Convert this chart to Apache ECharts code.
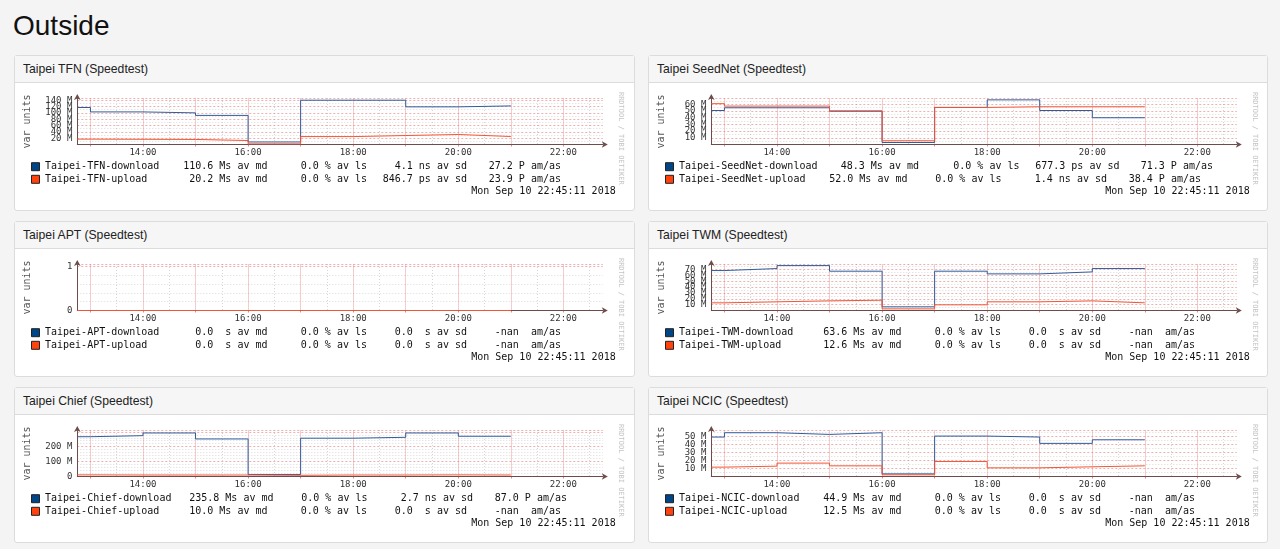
<!DOCTYPE html>
<html>
<head>
<meta charset="utf-8">
<title>Outside</title>
<script src="https://cdn.jsdelivr.net/npm/echarts@6.0.0/dist/echarts.min.js"></script>
<style>
    html, body { margin: 0; padding: 0; width: 1280px; height: 549px; overflow: hidden; background: #f4f4f4; font-family: "Liberation Sans", Arial, sans-serif; }
    h1 { position: absolute; left: 13px; top: 10px; margin: 0; font-size: 28px; font-weight: normal; color: #111; }
    .card { position: absolute; height: 156px; background: #fff; border: 1px solid #dcdcdc; border-radius: 3px; box-sizing: border-box; }
    .card-header { height: 26px; line-height: 27px; background: #f6f6f6; border-bottom: 1px solid #dcdcdc; padding-left: 8px; font-size: 12.2px; color: #222; }
    .chartWrapper { height: 127px; }
</style>
</head>
<body>
<h1>Outside</h1>
<div id="cards"></div>

<script>
    // interval boundaries (hours), one value per interval
    var hours = [12.75, 13, 14, 15, 16, 17, 18, 19, 20, 21];
    var hourTicks = [13, 14, 15, 16, 17, 18, 19, 20, 21, 22];
    var halfHourTicks = [13.5, 14.5, 15.5, 16.5, 17.5, 18.5, 19.5, 20.5, 21.5, 22.5];
    var labelHours = [14, 16, 18, 20, 22];
    var updated = 'Mon Sep 10 22:45:11 2018';

    var titles = ['Taipei TFN (Speedtest)', 'Taipei SeedNet (Speedtest)', 'Taipei APT (Speedtest)',
                  'Taipei TWM (Speedtest)', 'Taipei Chief (Speedtest)', 'Taipei NCIC (Speedtest)'];
    var targets = ['TFN', 'SeedNet', 'APT', 'TWM', 'Chief', 'NCIC'];

    var tfnDownload = [117, 103, 100, 92, 8, 140, 140, 119, 122];
    var tfnUpload = [17, 16.5, 16, 12.5, 2, 25, 28.4, 31.6, 25.3];
    var seednetDownload = [50.8, 54.9, 54.9, 49.7, 3, 55.4, 66.7, 50.8, 40];
    var seednetUpload = [61, 57.4, 57.4, 50.3, 5.6, 55.4, 56.4, 56.4, 56.4];
    var aptDownload = [0, 0, 0, 0, 0, 0, 0, 0, 0];
    var aptUpload = [0, 0, 0, 0, 0, 0, 0, 0, 0];
    var twmDownload = [68.3, 71.7, 76.8, 67.2, 6.3, 67.2, 62.6, 66, 71.7];
    var twmUpload = [13.1, 14.8, 16.5, 17.6, 2.8, 9.7, 14.8, 16.5, 13.1];
    var chiefDownload = [267, 274, 292, 252, 13.5, 257, 263, 292, 270];
    var chiefUpload = [11, 10, 10, 10, 8, 10, 10, 11, 10];
    var ncicDownload = [49.2, 54.6, 52.5, 54.6, 3.3, 50.4, 49.2, 41.3, 45.8];
    var ncicUpload = [11.7, 12.9, 16.7, 13.3, 2.1, 18.75, 10.8, 12.1, 13.3];

    var tfnStats = [['110.6 Ms av md', '0.0 % av ls', '4.1 ns av sd', '27.2 P am/as'],
                    ['20.2 Ms av md', '0.0 % av ls', '846.7 ps av sd', '23.9 P am/as']];
    var seednetStats = [['48.3 Ms av md', '0.0 % av ls', '677.3 ps av sd', '71.3 P am/as'],
                        ['52.0 Ms av md', '0.0 % av ls', '1.4 ns av sd', '38.4 P am/as']];
    var aptStats = [['0.0  s av md', '0.0 % av ls', '0.0  s av sd', '-nan  am/as'],
                    ['0.0  s av md', '0.0 % av ls', '0.0  s av sd', '-nan  am/as']];
    var twmStats = [['63.6 Ms av md', '0.0 % av ls', '0.0  s av sd', '-nan  am/as'],
                    ['12.6 Ms av md', '0.0 % av ls', '0.0  s av sd', '-nan  am/as']];
    var chiefStats = [['235.8 Ms av md', '0.0 % av ls', '2.7 ns av sd', '87.0 P am/as'],
                      ['10.0 Ms av md', '0.0 % av ls', '0.0  s av sd', '-nan  am/as']];
    var ncicStats = [['44.9 Ms av md', '0.0 % av ls', '0.0  s av sd', '-nan  am/as'],
                     ['12.5 Ms av md', '0.0 % av ls', '0.0  s av sd', '-nan  am/as']];

    // y scale per chart: top of plot, label step, minor splits, highest labelled value, unit
    var yMax = [147, 69.5, 1.06, 79.5, 312, 58];
    var yStep = [20, 10, 1, 10, 100, 10];
    var yMinor = [2, 2, 5, 2, 5, 2];
    var yTop = [140, 60, 1, 70, 200, 50];
    var yUnit = [' M', ' M', '', ' M', ' M', ' M'];

    var downloads = [tfnDownload, seednetDownload, aptDownload, twmDownload, chiefDownload, ncicDownload];
    var uploads = [tfnUpload, seednetUpload, aptUpload, twmUpload, chiefUpload, ncicUpload];
    var stats = [tfnStats, seednetStats, aptStats, twmStats, chiefStats, ncicStats];

    var MONO = 'DejaVu Sans Mono';
    var DL_COLOR = '#2f5c9c';
    var UL_COLOR = '#f25535';
    var DL_BOX = '#004586';
    var UL_BOX = '#ff420e';
    var AXIS_COLOR = '#6e4c4c';

    // each interval value is held flat from its start to the next boundary
    function stepData(values) {
        var d = [];
        values.forEach(function (v, i) {
            d.push([hours[i], v]);
            d.push([hours[i + 1], v]);
        });
        return d;
    }

    // right edges of the legend columns, they move with the label length
    function statColumns(name) {
        if (name.length >= 23) return [270, 370.5, 470.5, 564];
        if (name.length === 21) return [258.5, 352.5, 458, 552];
        return [252.5, 352, 452, 546];
    }

    function legendGraphics(idx) {
        var names = ['Taipei-' + targets[idx] + '-download', 'Taipei-' + targets[idx] + '-upload'];
        var colors = [DL_BOX, UL_BOX];
        var rowY = [83.7, 96.3];
        var g = [];

        g.push({type: 'text', x: 12, y: 38.5, rotation: Math.PI / 2,
            style: {text: 'var units', fontFamily: MONO, fontSize: 10, fill: '#555', align: 'center', verticalAlign: 'middle'}});
        g.push({type: 'text', x: 605.7, y: 55.3, rotation: -Math.PI / 2,
            style: {text: 'RRDTOOL / TOBI OETIKER', fontFamily: MONO, fontSize: 7, fill: '#c4c4c4', align: 'center', verticalAlign: 'middle'}});

        names.forEach(function (name, r) {
            g.push({type: 'rect', shape: {x: 16.5, y: rowY[r] - 4, width: 8, height: 8},
                style: {fill: colors[r], stroke: '#222', lineWidth: 1}});
            g.push({type: 'text', x: 30, y: rowY[r],
                style: {text: name, fontFamily: MONO, fontSize: 10, fill: '#111', align: 'left', verticalAlign: 'middle'}});
            var cols = statColumns(name);
            stats[idx][r].forEach(function (s, c) {
                g.push({type: 'text', x: cols[c], y: rowY[r],
                    style: {text: s, fontFamily: MONO, fontSize: 10, fill: '#111', align: 'right', verticalAlign: 'middle'}});
            });
        });

        g.push({type: 'text', x: 600.7, y: 108,
            style: {text: updated, fontFamily: MONO, fontSize: 10, fill: '#111', align: 'right', verticalAlign: 'middle'}});
        return g;
    }

    function buildOption(idx) {
        return {
            animation: false,
            grid: {left: 62.3, top: 15, width: 525.5, height: 46.5},
            xAxis: [{
                type: 'value', min: 12.75, max: 22.75,
                axisLine: {show: true, lineStyle: {color: AXIS_COLOR, width: 1},
                    symbol: ['none', 'arrow'], symbolSize: [5, 6], symbolOffset: [0, 5]},
                axisTick: {show: true, length: 2, customValues: hourTicks, lineStyle: {color: 'rgba(200,60,60,0.6)'}},
                axisLabel: {customValues: labelHours, fontFamily: MONO, fontSize: 9, color: '#333', margin: 4,
                    formatter: function (v) { return v + ':00'; }},
                splitLine: {show: true, lineStyle: {color: 'rgba(225,110,110,0.35)', width: 1}}
            }, {
                type: 'value', min: 12.75, max: 22.75,
                axisLine: {show: false},
                axisTick: {show: false, customValues: halfHourTicks},
                axisLabel: {show: false},
                splitLine: {show: true, lineStyle: {color: 'rgba(150,150,150,0.4)', type: [1, 2]}}
            }],
            yAxis: {
                type: 'value', min: 0, max: yMax[idx], interval: yStep[idx],
                axisLine: {show: true, lineStyle: {color: AXIS_COLOR, width: 1},
                    symbol: ['none', 'arrow'], symbolSize: [5, 6], symbolOffset: [0, 4]},
                axisTick: {show: false},
                axisLabel: {fontFamily: MONO, fontSize: 9, color: '#333', margin: 5,
                    formatter: function (v) {
                        if (v > yTop[idx] + 1e-9) return '';
                        return v === 0 ? '0' : v + yUnit[idx];
                    }},
                splitLine: {show: true, lineStyle: {color: 'rgba(222,80,80,0.45)', type: [2, 2]}},
                minorTick: {show: false, splitNumber: yMinor[idx]},
                minorSplitLine: {show: true, lineStyle: {color: 'rgba(150,150,150,0.35)', type: [1, 2]}}
            },
            series: [{
                type: 'line', data: stepData(downloads[idx]), showSymbol: false, silent: true,
                lineStyle: {color: DL_COLOR, width: 1}, itemStyle: {color: DL_COLOR}
            }, {
                type: 'line', data: stepData(uploads[idx]), showSymbol: false, silent: true,
                lineStyle: {color: UL_COLOR, width: 1}, itemStyle: {color: UL_COLOR}
            }],
            graphic: legendGraphics(idx)
        };
    }

    var cardLeft = [14, 648];
    var cardWidth = [621, 620];
    var cardTop = [55, 221, 387];
    var holder = document.getElementById('cards');

    titles.forEach(function (title, idx) {
        var col = idx % 2, row = Math.floor(idx / 2);
        var card = document.createElement('div');
        card.className = 'card';
        card.style.left = cardLeft[col] + 'px';
        card.style.top = cardTop[row] + 'px';
        card.style.width = cardWidth[col] + 'px';
        card.innerHTML = '<div class="card-header">' + title + '</div>' +
            '<div class="chartWrapper" style="width:' + (cardWidth[col] - 2) + 'px"></div>';
        holder.appendChild(card);
        var chart = echarts.init(card.querySelector('.chartWrapper'), null, {renderer: 'canvas'});
        chart.setOption(buildOption(idx));
    });
</script>
</body>
</html>
